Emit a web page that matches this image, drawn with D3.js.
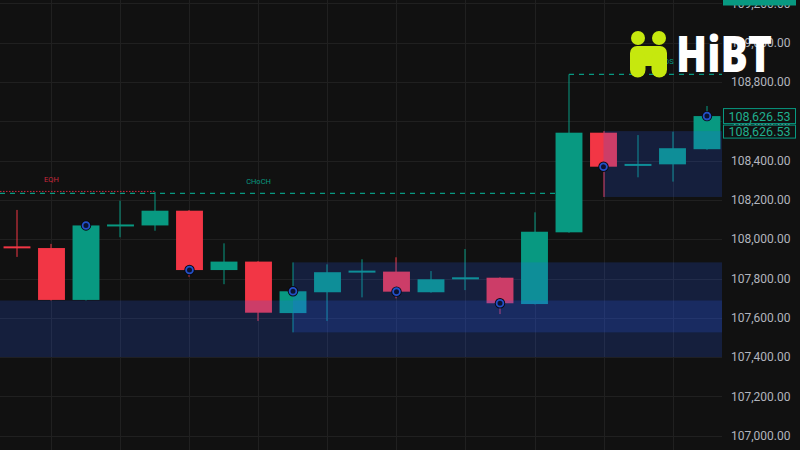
<!DOCTYPE html>
<html><head><meta charset="utf-8">
<script src="https://cdn.jsdelivr.net/npm/d3@7"></script>
<style>html,body{margin:0;padding:0;background:#111111;}svg{display:block;}</style>
</head><body>
<svg id="c" width="800" height="450"></svg>
<script>
// ---- data ----
const candleIdx = d3.range(21);
const opens  = [107962,107955,107691,108068,108070,108145,107843,107886,107624,107730,107833,107835,107730,107799,107804,107670,108035,108542,108376,108381,108458];
const highs  = [108149,107976,108072,108196,108240,108148,107979,107888,107882,107872,107898,107908,107838,107950,107806,108137,108839,108550,108530,108547,108678];
const lows   = [107910,107688,107688,108010,108043,107809,107771,107584,107526,107584,107704,107699,107728,107741,107619,107668,108033,108215,108315,108293,108455];
const closes = [107955,107691,108070,108072,108145,107843,107886,107626,107735,107832,107837,107733,107796,107803,107674,108038,108542,108369,108380,108463,108626.53];
const markerIdx = [2,5,8,11,14,17,20];
const yTicks = [107000,107200,107400,107600,107800,108000,108200,108400,108600,108800,109000,109200];
const zones = [ {from:0, top:107688, bottom:107400}, {from:8, top:107882, bottom:107526}, {from:17, top:108550, bottom:108215} ];
const lastPrice = 108626.53;
const chochPrice = 108233, eqhPrice = 108238, bosPrice = 108839;

// ---- layout ----
const W = 800, H = 450, plotR = 722;
const svg = d3.select('#c');
const x = d3.scaleBand().domain(candleIdx).range([-0.25, 724.25]).paddingInner(0.22).paddingOuter(0.11);
const cx = i => x(i) + x.bandwidth()/2;
const y = d3.scaleLinear().domain([107000,108800]).range([435.7,82]);
const up = '#089981', down = '#f23645';
const fmt = d3.format(',.2f');

svg.append('rect').attr('width',W).attr('height',H).attr('fill','#111111');

// grid
const g = svg.append('g');
g.selectAll('.hg').data(yTicks).join('line')
  .attr('x1',0).attr('x2',plotR).attr('y1',d=>Math.round(y(d))+0.5).attr('y2',d=>Math.round(y(d))+0.5)
  .attr('stroke','#202020').attr('stroke-width',1);
g.selectAll('.vg').data(candleIdx.filter(i=>i%2===1)).join('line')
  .attr('x1',d=>Math.round(cx(d))+0.5).attr('x2',d=>Math.round(cx(d))+0.5).attr('y1',0).attr('y2',H)
  .attr('stroke','#202020').attr('stroke-width',1);

// structure lines
svg.append('line').attr('x1',0).attr('x2',cx(16)).attr('y1',y(chochPrice)).attr('y2',y(chochPrice))
  .attr('stroke','#089981').attr('stroke-width',1.2).attr('stroke-dasharray','5,5');
svg.append('line').attr('x1',0).attr('x2',cx(4)).attr('y1',y(eqhPrice)-1).attr('y2',y(eqhPrice)-1)
  .attr('stroke','#c8283c').attr('stroke-width',1).attr('stroke-dasharray','1.5,1.5');
svg.append('line').attr('x1',cx(16)).attr('x2',plotR).attr('y1',y(bosPrice)).attr('y2',y(bosPrice))
  .attr('stroke','#089981').attr('stroke-width',1.2).attr('stroke-dasharray','5,5');

const lblFont = 'Roboto, "DejaVu Sans", sans-serif';
svg.append('text').attr('x',cx(1)).attr('y',y(eqhPrice)-10).attr('text-anchor','middle')
  .attr('font-family',lblFont).attr('font-size',7.5).attr('fill','#c8283c').text('EQH');
svg.append('text').attr('x',cx(7)).attr('y',y(chochPrice)-9).attr('text-anchor','middle')
  .attr('font-family',lblFont).attr('font-size',7.5).attr('fill','#089981').text('CHoCH');
svg.append('text').attr('x',cx(19)-6).attr('y',y(bosPrice)-10).attr('text-anchor','middle')
  .attr('font-family',lblFont).attr('font-size',7.5).attr('fill','#089981').text('BOS');

// candles
const cg = svg.append('g');
candleIdx.forEach(i=>{
  const o=opens[i], c=closes[i], col = c>=o?up:down;
  cg.append('rect').attr('x',Math.round(cx(i))-0.5).attr('width',1)
    .attr('y',y(highs[i])).attr('height',y(lows[i])-y(highs[i])).attr('fill',col);
  const top=y(Math.max(o,c)), bot=y(Math.min(o,c));
  const h=Math.max(2,bot-top);
  cg.append('rect').attr('x',x(i)).attr('width',x.bandwidth())
    .attr('y',h===2?(top+bot)/2-1:top).attr('height',h).attr('fill',col);
});

// zones (overlay)
svg.selectAll('.zone').data(zones).join('rect')
  .attr('x',d=>d.from===0?0:cx(d.from)).attr('width',d=>plotR-(d.from===0?0:cx(d.from)))
  .attr('y',d=>y(d.top)).attr('height',d=>y(d.bottom)-y(d.top))
  .attr('fill','rgba(41,98,255,0.19)');

// markers
markerIdx.forEach(i=>{
  svg.append('circle').attr('cx',cx(i)).attr('cy',y(closes[i])).attr('r',5.2).attr('fill','#0a0a10');
  svg.append('circle').attr('cx',cx(i)).attr('cy',y(closes[i])).attr('r',3.4)
    .attr('fill','#0c1230').attr('stroke','#2350c8').attr('stroke-width',1.8);
});

// right axis labels
svg.selectAll('.yl').data(yTicks).join('text')
  .attr('x',731).attr('y',d=>y(d)).attr('dy','0.35em')
  .attr('font-family',lblFont).attr('font-size',12).attr('fill','#b2b5be')
  .text(d=>fmt(d));

// top cut label
svg.append('rect').attr('x',723).attr('y',-12).attr('width',73).attr('height',17.5).attr('fill','#089981');
svg.append('text').attr('x',759).attr('y',-3).attr('text-anchor','middle')
  .attr('font-family',lblFont).attr('font-size',12).attr('fill','#ffffff').text(fmt(109212));

// price boxes
[[y(lastPrice),15],[y(lastPrice)+15.5,13]].forEach(([cy,hh])=>{
  svg.append('rect').attr('x',723.5).attr('y',cy-hh/2).attr('width',72).attr('height',hh)
    .attr('fill','#111111').attr('stroke','#089981').attr('stroke-width',1);
  svg.append('text').attr('x',759.5).attr('y',cy).attr('dy','0.36em').attr('text-anchor','middle')
    .attr('font-family',lblFont).attr('font-size',12.5).attr('fill','#1fae8e').text(fmt(lastPrice));
});

// logo watermark
const lg = svg.append('g');
const lime = '#c6e80e';
lg.append('circle').attr('cx',638).attr('cy',38).attr('r',7).attr('fill',lime);
lg.append('circle').attr('cx',659).attr('cy',38).attr('r',7).attr('fill',lime);
lg.append('rect').attr('x',630).attr('y',46).attr('width',37).attr('height',20).attr('rx',7).attr('fill',lime);
lg.append('rect').attr('x',630).attr('y',52).attr('width',15.5).attr('height',25.5).attr('rx',7.7).attr('fill',lime);
lg.append('rect').attr('x',651.5).attr('y',52).attr('width',15.5).attr('height',25.5).attr('rx',7.7).attr('fill',lime);
const logoText = lg.append('text').attr('x',0).attr('y',0)
  .attr('font-family','"Open Sans", "Liberation Sans", sans-serif')
  .attr('font-weight',800).attr('font-size',50).attr('fill','#ffffff').text('HiBT');
// fit letters into the box 676..772 horizontally, cap height from 37 to 72
const bb = logoText.node().getBBox();
const capH = 50*0.714;
const sx = 96/bb.width, sy = 35/capH;
logoText.attr('transform',`translate(${676 - bb.x*sx},72) scale(${sx},${sy})`);
</script>
</body></html>
